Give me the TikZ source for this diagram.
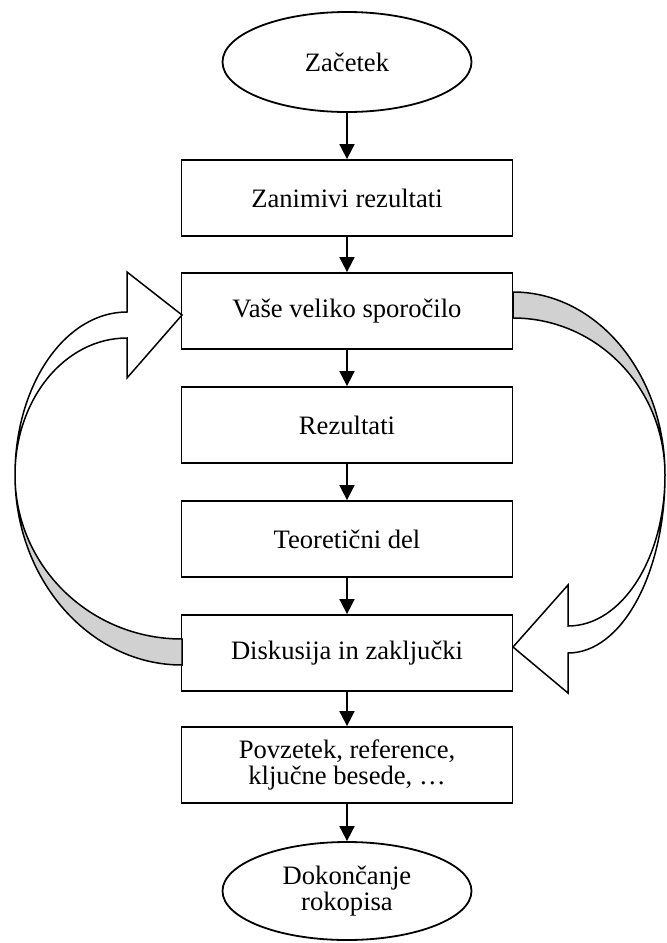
\documentclass[tikz,border=0pt]{standalone}
\usepackage{fontspec}
\setmainfont{Liberation Serif}
\usetikzlibrary{arrows.meta, shapes.geometric}
\definecolor{bandgray}{gray}{0.82}

\begin{document}
\begin{tikzpicture}[x=0.5pt, y=-0.5pt, font=\fontsize{13.3}{13.4}\selectfont,
  box/.style={draw, line width=0.9pt, minimum width=165.5pt, minimum height=38pt, align=center, inner sep=0pt},
  oval/.style={draw, ellipse, line width=0.9pt, minimum width=124.5pt, minimum height=50pt, align=center, inner sep=0pt},
  flow/.style={line width=0.9pt, -{Triangle[length=7.5pt, width=7.5pt]}},
  band/.style={draw, line width=0.75pt, fill=bandgray},
  shaft/.style={draw, line width=0.75pt, fill=white}]
\useasboundingbox (0,0) rectangle (667,943);

\node [oval] (zacetek) at (347,62) {Začetek};
\node [box] (zanimivi) at (347,198) {Zanimivi rezultati};
\node [box] (sporocilo) at (347,311) {Vaše veliko sporočilo};
\node [box] (rezultati) at (347,425) {Rezultati};
\node [box] (teorija) at (347,539) {Teoretični del};
\node [box] (diskusija) at (347,653) {Diskusija in zaključki};
\node [box] (povzetek) at (347,765) {Povzetek, reference,\\ključne besede, …};
\node [oval, minimum height=49pt] (konec) at (347,891) {Dokončanje\\rokopisa};

\foreach \a/\b in {zacetek/zanimivi, zanimivi/sporocilo, sporocilo/rezultati, rezultati/teorija,
  teorija/diskusija, diskusija/povzetek, povzetek/konec}
  \draw [flow] (\a) -- (\b);

% back from the discussion to the message
\draw [band] (182,665) .. controls (90,665) and (15,580) .. (15,475)
  .. controls (15,566) and (90,639) .. (182,639) -- cycle;
\draw [shaft] (15,475) .. controls (15,385) and (65,312) .. (127,312) -- (127,272) -- (182,315)
  -- (127,378) -- (127,338) .. controls (65,338) and (15,399) .. (15,475) -- cycle;

% from the message down to the discussion
\draw [band] (513,292) .. controls (597,292) and (665,374) .. (665,475)
  .. controls (665,388) and (597,318) .. (513,318) -- cycle;
\draw [shaft] (665,475) .. controls (665,573) and (622,653) .. (568,653) -- (568,693) -- (513,647)
  -- (568,585) -- (568,626) .. controls (622,626) and (665,558) .. (665,475) -- cycle;
\end{tikzpicture}
\end{document}
